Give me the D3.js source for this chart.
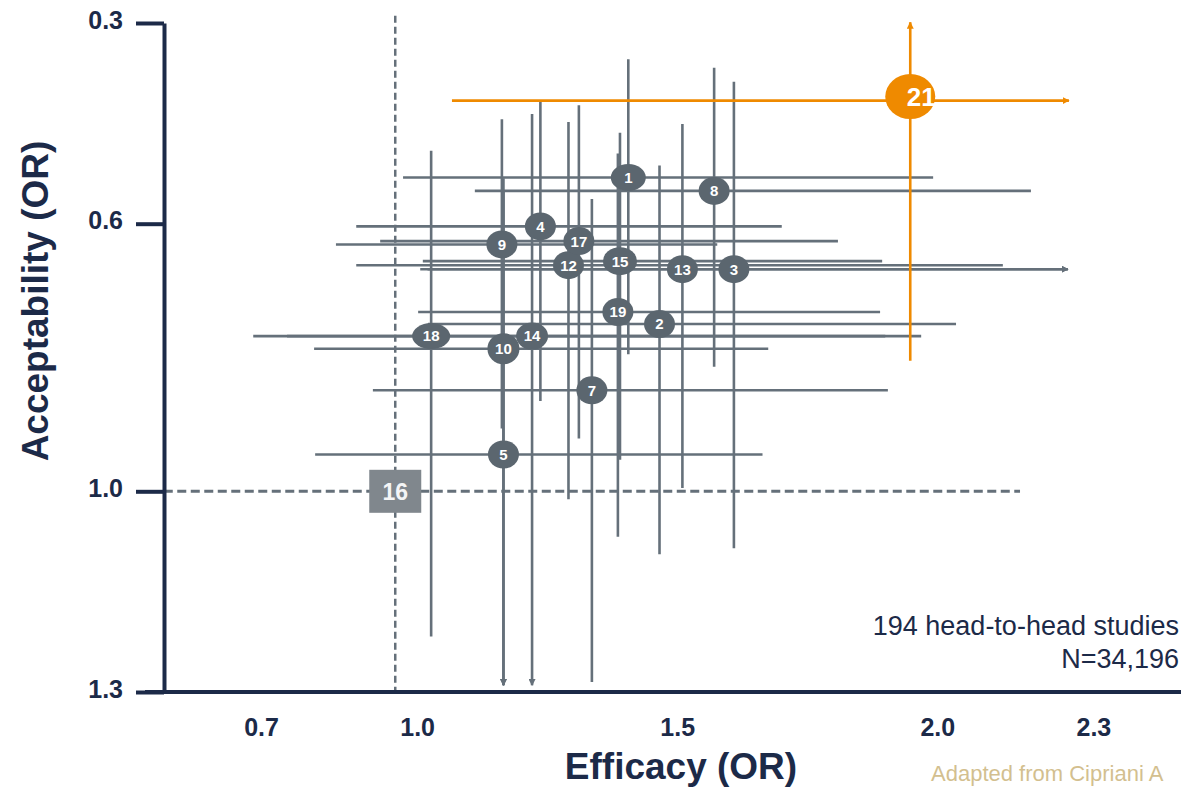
<!DOCTYPE html>
<html>
<head>
<meta charset="utf-8">
<script src="https://cdn.jsdelivr.net/npm/d3@7"></script>
<style>
  html, body { margin: 0; padding: 0; background: #ffffff; }
  svg { display: block; font-family: "Liberation Sans", Arial, Helvetica, sans-serif; }
</style>
</head>
<body>
<svg id="chart" width="1181" height="787"></svg>
<script>
// ---- Data: odds ratios with 95% intervals ----
const labels        = ["1", "2", "3", "4", "5", "7", "8", "9", "10", "12", "13", "14", "15", "17", "18", "19"];
const efficacy      = [1.406, 1.466, 1.609, 1.237, 1.166, 1.336, 1.571, 1.163, 1.166, 1.291, 1.510, 1.221, 1.390, 1.311, 1.027, 1.386];
const acceptability = [0.531, 0.750, 0.668, 0.604, 0.945, 0.849, 0.551, 0.631, 0.787, 0.662, 0.668, 0.768, 0.656, 0.626, 0.768, 0.732];
const efficacyLow   = [0.973, 1.021, 1.020, 0.883, 0.804, 0.915, 1.111, 0.844, 0.802, 0.883, 1.006, 0.750, 1.011, 0.929, 0.685, 1.002];
const efficacyHigh  = [1.992, 2.036, 2.251, 1.701, 1.664, 1.905, 2.180, 1.577, 1.675, 2.126, 2.251, 1.900, 1.894, 1.809, 1.969, 1.890];
const acceptLow     = [0.354, 0.513, 0.388, 0.415, 0.550, 0.563, 0.367, 0.444, 0.532, 0.448, 0.451, 0.436, 0.464, 0.423, 0.491, 0.495];
const acceptHigh    = [0.795, 1.094, 1.085, 0.865, 1.290, 1.285, 0.814, 0.906, 1.290, 1.012, 0.995, 1.290, 0.953, 0.921, 1.217, 1.068];
// intervals that run past the plotted range (drawn with an arrow)
const efficacyOpen  = ["3", "13"];
const acceptOpen    = ["5", "10", "14"];

// highlighted treatment
const highlightLabel = "21";
const highlightPoint = [1.948, 0.416];
const highlightEffCI = [1.067, 2.253];
const highlightAccCI = [0.299, 0.805];

// reference treatment and its guide lines
const referenceLabel  = "16";
const referencePoint  = [0.958, 1.0];
const referenceVSpan  = [0.289, 1.3];   // acceptability extent of the vertical guide
const referenceHSpan  = [0.513, 2.159]; // efficacy extent of the horizontal guide

const efficacyTicks   = [0.7, 1.0, 1.5, 2.0, 2.3];
const acceptTicks     = [0.3, 0.6, 1.0, 1.3];

const footnoteLines = ["194 head-to-head studies", "N=34,196"];
const sourceNote = "Adapted from Cipriani A";

// ---- Styling ----
const NAVY = "#1c2a48";
const LINE = "#65707a";
const DOT = "#5b666f";
const ORANGE = "#ef8a00";
const BOX = "#80878d";

const svg = d3.select("#chart");

const x = d3.scaleLinear().domain([0.5, 2.5]).range([157, 1197.4]);
const y = d3.scaleLinear().domain([0.3, 1.3]).range([23, 692]);

// arrowheads
const defs = svg.append("defs");
function arrowMarker(id, color) {
  defs.append("marker")
    .attr("id", id)
    .attr("viewBox", "0 0 10 10")
    .attr("refX", 9).attr("refY", 5)
    .attr("markerWidth", 7).attr("markerHeight", 7)
    .attr("markerUnits", "userSpaceOnUse")
    .attr("orient", "auto-start-reverse")
    .append("path").attr("d", "M0,0L10,5L0,10Z").attr("fill", color);
}
arrowMarker("arrowGray", LINE);
arrowMarker("arrowOrange", ORANGE);

const points = labels.map((d, i) => ({
  label: d,
  eff: efficacy[i], acc: acceptability[i],
  effLo: efficacyLow[i], effHi: efficacyHigh[i],
  accLo: acceptLow[i], accHi: acceptHigh[i],
  effOpen: efficacyOpen.includes(d),
  accOpen: acceptOpen.includes(d)
}));

// ---- interval lines ----
const ci = svg.append("g").attr("stroke", LINE).attr("stroke-width", 2.6).attr("fill", "none");
ci.selectAll("line.h").data(points).join("line")
  .attr("class", "h")
  .attr("x1", d => x(d.effLo)).attr("x2", d => x(d.effHi))
  .attr("y1", d => y(d.acc)).attr("y2", d => y(d.acc))
  .attr("marker-end", d => d.effOpen ? "url(#arrowGray)" : null);
ci.selectAll("line.v").data(points).join("line")
  .attr("class", "v")
  .attr("x1", d => x(d.eff)).attr("x2", d => x(d.eff))
  .attr("y1", d => y(d.accLo)).attr("y2", d => y(d.accHi))
  .attr("marker-end", d => d.accOpen ? "url(#arrowGray)" : null);

// ---- reference guides ----
const guides = svg.append("g").attr("stroke", LINE).attr("fill", "none");
guides.append("line")
  .attr("x1", x(referencePoint[0])).attr("x2", x(referencePoint[0]))
  .attr("y1", y(referenceVSpan[0])).attr("y2", y(referenceVSpan[1]))
  .attr("stroke-width", 2.5).attr("stroke-dasharray", "7,4");
guides.append("line")
  .attr("x1", x(referenceHSpan[0])).attr("x2", x(referenceHSpan[1]))
  .attr("y1", y(referencePoint[1])).attr("y2", y(referencePoint[1]))
  .attr("stroke-width", 3).attr("stroke-dasharray", "9,4.5");

// ---- highlighted intervals ----
const hl = svg.append("g").attr("stroke", ORANGE).attr("stroke-width", 2.6);
hl.append("line")
  .attr("x1", x(highlightEffCI[0])).attr("x2", x(highlightEffCI[1]))
  .attr("y1", y(highlightPoint[1])).attr("y2", y(highlightPoint[1]))
  .attr("marker-end", "url(#arrowOrange)");
hl.append("line")
  .attr("x1", x(highlightPoint[0])).attr("x2", x(highlightPoint[0]))
  .attr("y1", y(highlightAccCI[0])).attr("y2", y(highlightAccCI[1]))
  .attr("marker-start", "url(#arrowOrange)");

// ---- axes ----
const yAxis = d3.axisLeft(y)
  .tickValues(acceptTicks)
  .tickFormat(d3.format(".1f"))
  .tickSize(28).tickSizeOuter(0).tickPadding(13);
const gy = svg.append("g").attr("transform", "translate(164,0)").call(yAxis);
gy.select(".domain").attr("stroke", NAVY).attr("stroke-width", 4);
gy.selectAll(".tick line").attr("stroke", NAVY).attr("stroke-width", 4);
gy.selectAll(".tick text")
  .attr("fill", NAVY).attr("font-size", 25).attr("font-weight", "bold")
  .attr("font-family", "Liberation Sans, Arial, sans-serif")
  .attr("dy", "0.2em");

// bottom baseline
svg.append("line")
  .attr("x1", 145).attr("x2", 1181)
  .attr("y1", y(1.3)).attr("y2", y(1.3))
  .attr("stroke", NAVY).attr("stroke-width", 4);

const xAxis = d3.axisBottom(x)
  .tickValues(efficacyTicks)
  .tickFormat(d3.format(".1f"))
  .tickSize(0).tickPadding(0);
const gx = svg.append("g").attr("transform", "translate(0,736)").call(xAxis);
gx.select(".domain").remove();
gx.selectAll(".tick text")
  .attr("fill", NAVY).attr("font-size", 25).attr("font-weight", "bold")
  .attr("font-family", "Liberation Sans, Arial, sans-serif")
  .attr("dy", 0).attr("y", 0);

// axis titles
svg.append("text")
  .attr("x", 681).attr("y", 779)
  .attr("text-anchor", "middle")
  .attr("fill", NAVY).attr("font-size", 37).attr("font-weight", "bold")
  .text("Efficacy (OR)");
svg.append("text")
  .attr("transform", "translate(48,301) rotate(-90)")
  .attr("text-anchor", "middle")
  .attr("fill", NAVY).attr("font-size", 37).attr("font-weight", "bold")
  .text("Acceptability (OR)");

// ---- treatment markers ----
const shape = { "1": [17.5, 13.5], "18": [19, 13], "15": [17, 14], "14": [16, 13.5], "10": [16, 15.5] };
const dots = svg.append("g");
const dot = dots.selectAll("g").data(points).join("g")
  .attr("transform", d => `translate(${x(d.eff)},${y(d.acc)})`);
dot.append("ellipse")
  .attr("rx", d => (shape[d.label] || [15.5, 14])[0])
  .attr("ry", d => (shape[d.label] || [15.5, 14])[1])
  .attr("fill", DOT);
dot.append("text")
  .attr("text-anchor", "middle").attr("dy", "0.36em")
  .attr("fill", "#ffffff").attr("font-size", 15).attr("font-weight", "bold")
  .text(d => d.label);

// reference box
const ref = svg.append("g")
  .attr("transform", `translate(${x(referencePoint[0])},${y(referencePoint[1])})`);
ref.append("rect")
  .attr("x", -26).attr("y", -21.5).attr("width", 52).attr("height", 43)
  .attr("fill", BOX);
ref.append("text")
  .attr("text-anchor", "middle").attr("dy", "0.36em")
  .attr("fill", "#f4f5f6").attr("font-size", 23).attr("font-weight", "bold")
  .text(referenceLabel);

// highlighted marker
const hm = svg.append("g")
  .attr("transform", `translate(${x(highlightPoint[0])},${y(highlightPoint[1]) - 4})`);
hm.append("ellipse").attr("rx", 25).attr("ry", 22.5).attr("fill", ORANGE);
hm.append("text")
  .attr("x", 11).attr("text-anchor", "middle").attr("dy", "0.36em")
  .attr("fill", "#ffffff").attr("font-size", 26).attr("font-weight", "bold")
  .text(highlightLabel);

// ---- notes ----
svg.append("g").selectAll("text").data(footnoteLines).join("text")
  .attr("x", 1179).attr("y", (d, i) => 635 + i * 33)
  .attr("text-anchor", "end")
  .attr("fill", NAVY).attr("font-size", 27)
  .text(d => d);
svg.append("text")
  .attr("x", 931).attr("y", 781)
  .attr("fill", "#d3bf8f").attr("font-size", 22)
  .text(sourceNote);
</script>
</body>
</html>
